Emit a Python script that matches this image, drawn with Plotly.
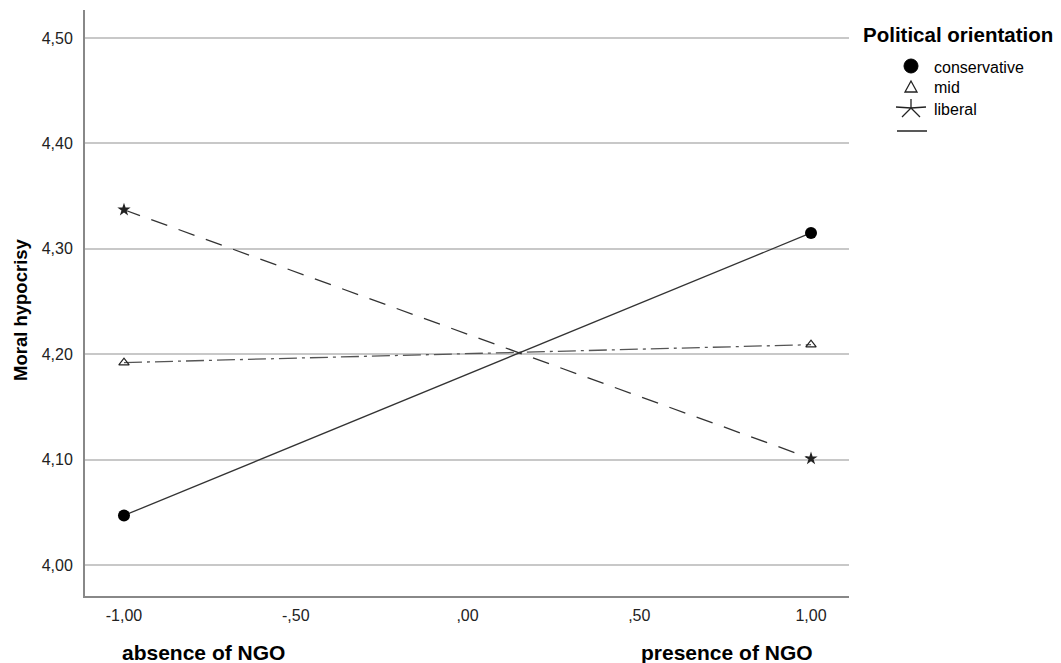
import plotly.graph_objects as go

# ---- data ----
x_vals = [-1.0, 1.0]
conservative = [4.047, 4.315]
mid = [4.192, 4.209]
liberal = [4.337, 4.101]

x_tickvals = [-1.0, -0.5, 0.0, 0.5, 1.0]
x_ticktext = ["-1,00", "-,50", ",00", ",50", "1,00"]
y_tickvals = [4.0, 4.1, 4.2, 4.3, 4.4, 4.5]
y_ticktext = ["4,00", "4,10", "4,20", "4,30", "4,40", "4,50"]

legend_title = "Political orientation"
legend_names = ["conservative", "mid", "liberal"]

# page has an 8px body margin: compensate so the plot lands where the reference has it
OFF = 8
W, H = 1061 - OFF, 663 - OFF
L_REF, T_REF, PW, PH = 85, 10, 764, 586
L, T = L_REF - OFF, T_REF - OFF
R, B = W - L - PW, H - T - PH
FONT = "Liberation Sans, Arial, sans-serif"


def px(xp):
    return (xp - L_REF) / PW


def py(yp):
    return (T_REF + PH - yp) / PH


fig = go.Figure()
fig.add_trace(go.Scatter(x=x_vals, y=liberal, mode="lines+markers", name=legend_names[2],
                         line=dict(color="#333333", width=1.3, dash="17px,12px"),
                         marker=dict(symbol="star", size=10, color="#222222")))
fig.add_trace(go.Scatter(x=x_vals, y=mid, mode="lines+markers", name=legend_names[1],
                         line=dict(color="#555555", width=1.3, dash="18px,5px,3px,5px"),
                         marker=dict(symbol="triangle-up-open", size=9, color="#222222",
                                     line=dict(width=1.2, color="#222222"))))
fig.add_trace(go.Scatter(x=x_vals, y=conservative, mode="lines+markers", name=legend_names[0],
                         line=dict(color="#333333", width=1.3),
                         marker=dict(symbol="circle", size=12, color="#000000")))

shapes = []
# legend: circle
cx, cy, r = 911, 66, 7
shapes.append(dict(type="circle", xref="paper", yref="paper",
                   x0=px(cx - r), x1=px(cx + r), y0=py(cy + r), y1=py(cy - r),
                   fillcolor="#000000", line=dict(color="#000000", width=1)))
# legend: open triangle
tx, ty = 911, 87
pts = [(tx, ty - 6), (tx - 6, ty + 5), (tx + 6, ty + 5)]
path = "M{},{} L{},{} L{},{} Z".format(px(pts[0][0]), py(pts[0][1]), px(pts[1][0]), py(pts[1][1]),
                                       px(pts[2][0]), py(pts[2][1]))
shapes.append(dict(type="path", xref="paper", yref="paper", path=path,
                   line=dict(color="#222222", width=1.3)))
# legend: star made of lines
sx, sy = 911, 108
arms = [(0, -9), (15, -1), (-15, -1), (-9, 9), (9, 9)]
spath = ""
for ax, ay in arms:
    spath += "M{},{} L{},{} ".format(px(sx), py(sy), px(sx + ax), py(sy + ay))
shapes.append(dict(type="path", xref="paper", yref="paper", path=spath,
                   line=dict(color="#222222", width=1.3)))
# legend: solid line
shapes.append(dict(type="line", xref="paper", yref="paper",
                   x0=px(897), x1=px(927), y0=py(131), y1=py(131),
                   line=dict(color="#222222", width=1.5)))

annotations = [
    dict(text="<b>" + legend_title + "</b>", xref="paper", yref="paper", x=px(861), y=py(35),
         xanchor="left", yanchor="middle", showarrow=False, font=dict(family=FONT, size=20.5, color="#000")),
    dict(text=legend_names[0], xref="paper", yref="paper", x=px(932), y=py(67),
         xanchor="left", yanchor="middle", showarrow=False, font=dict(family=FONT, size=16, color="#000")),
    dict(text=legend_names[1], xref="paper", yref="paper", x=px(932), y=py(88),
         xanchor="left", yanchor="middle", showarrow=False, font=dict(family=FONT, size=16, color="#000")),
    dict(text=legend_names[2], xref="paper", yref="paper", x=px(932), y=py(110),
         xanchor="left", yanchor="middle", showarrow=False, font=dict(family=FONT, size=16, color="#000")),
    dict(text="<b>absence of NGO</b>", xref="x", yref="paper", x=-1.012, y=py(652),
         xanchor="left", yanchor="middle", showarrow=False, font=dict(family=FONT, size=21, color="#000")),
    dict(text="<b>presence of NGO</b>", xref="x", yref="paper", x=1.012, y=py(652),
         xanchor="right", yanchor="middle", showarrow=False, font=dict(family=FONT, size=21, color="#000")),
    dict(text="<b>Moral hypocrisy</b>", xref="paper", yref="paper", x=px(20), y=py(310),
         xanchor="center", yanchor="middle", textangle=-90, showarrow=False,
         font=dict(family=FONT, size=18.5, color="#000")),
]

fig.update_layout(
    width=W, height=H,
    margin=dict(l=L, r=R, t=T, b=B, autoexpand=False),
    paper_bgcolor="white", plot_bgcolor="white",
    showlegend=False,
    shapes=shapes, annotations=annotations,
    font=dict(family=FONT, size=16, color="#222"),
    xaxis=dict(range=[-1.1135, 1.1106], tickvals=x_tickvals, ticktext=x_ticktext,
               showgrid=False, zeroline=False, showline=True, linecolor="#888888", linewidth=2,
               ticks="", ticklabelstandoff=4, tickfont=dict(family=FONT, size=16, color="#222")),
    yaxis=dict(range=[3.9706, 4.5265], tickvals=y_tickvals, ticktext=y_ticktext,
               showgrid=True, gridcolor="#c8c8c8", gridwidth=1.5, zeroline=False,
               showline=True, linecolor="#888888", linewidth=2,
               ticks="", ticklabelstandoff=7, tickfont=dict(family=FONT, size=16, color="#222")),
)

fig.write_html("out.html")
